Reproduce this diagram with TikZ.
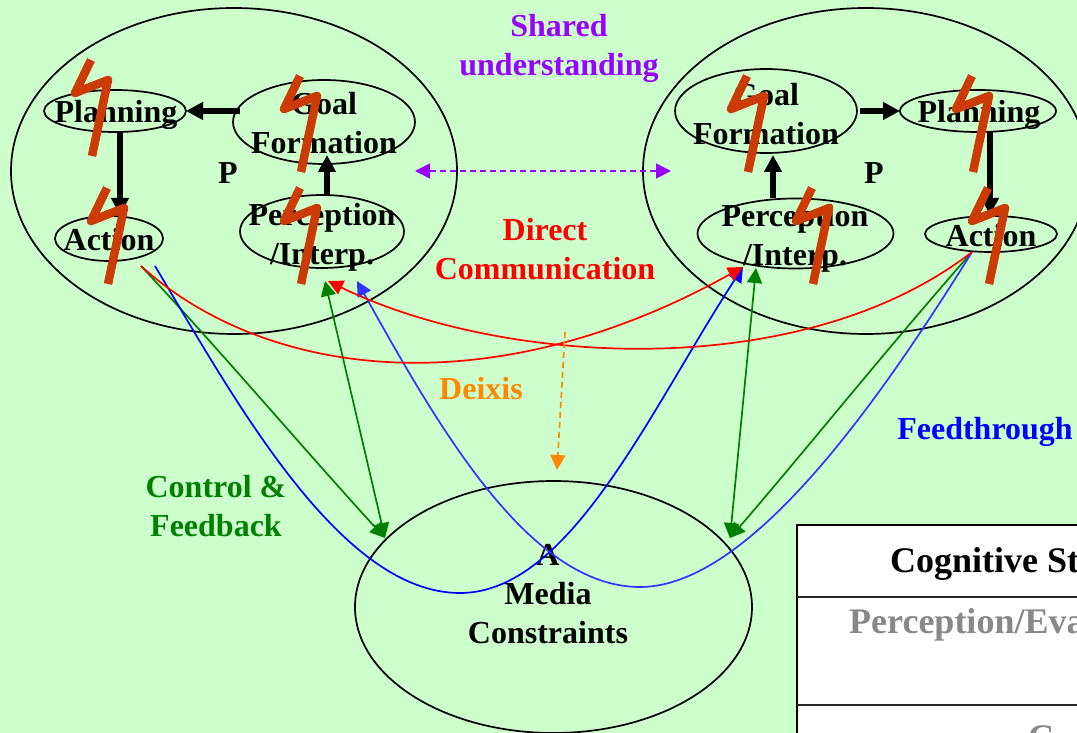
\documentclass[tikz,border=0pt]{standalone}
\usepackage{fontspec}
\setmainfont{Liberation Serif}
\usetikzlibrary{arrows.meta,shapes.geometric}
\definecolor{bg}{HTML}{CCFFCC}
\definecolor{boltc}{HTML}{CC3A06}
\definecolor{purp}{HTML}{9900FF}
\definecolor{orng}{HTML}{FF8800}
\definecolor{grn}{HTML}{008000}
\definecolor{blu}{HTML}{0000FF}
\definecolor{blt}{HTML}{3333FF}
\definecolor{gry}{HTML}{888888}
\tikzset{
  bubble/.style={draw=black,ellipse,line width=1.7pt,inner sep=0pt,outer sep=0pt},
  lab/.style={font=\fontsize{32}{39}\selectfont\bfseries,align=center,inner sep=0pt,text=#1},
  lab/.default=black,
  flow/.style={line width=5.5pt,-{Triangle[length=17pt,width=17pt]}},
  thin link/.style={line width=1.7pt,draw=#1,-{Triangle[length=15pt,width=15pt]},fill=none},
  both link/.style={line width=1.7pt,draw=#1,{Triangle[length=15pt,width=15pt]}-{Triangle[length=15pt,width=15pt]}},
  dash link/.style={line width=1.7pt,draw=#1,dash pattern=on 6pt off 4pt},
  bolt/.pic={\draw[boltc,line width=8.5pt,line join=round] (16,-76) -- (0,-43) -- (33,-56) -- (17,20);},
  tablab/.style={font=\fontsize{36}{40}\selectfont\bfseries,inner sep=0pt,anchor=base west},
}
\begin{document}
\begin{tikzpicture}[x=1pt,y=-1pt]
\clip (0,0) rectangle (1077,733);
\fill[bg] (0,0) rectangle (1077,733);

% table
\draw[fill=white,line width=2pt] (797,525) rectangle (1100,760);
\draw[line width=1.5pt,draw=black!85] (797,597) -- (1100,597);
\draw[line width=1.5pt,draw=black!85] (797,705) -- (1100,705);
\node[tablab] (t1) at (890,572) {Cognitive St};
\node[tablab,text=gry] (t2) at (849,633) {Perception/Eva};
\node[tablab,text=gry] (t3) at (1028,749) {C};

% big ellipses
\node[bubble,minimum width=446pt,minimum height=326pt] (outerL) at (234,171) {};
\node[bubble,minimum width=446pt,minimum height=326pt] (outerR) at (866,171) {};
\node[bubble,minimum width=397pt,minimum height=252pt] (media) at (553.5,607) {};

% left small ellipses
\node[bubble,minimum width=142pt,minimum height=42pt] (planL) at (115,111) {};
\node[bubble,minimum width=182pt,minimum height=84pt] (goalL) at (324,122) {};
\node[bubble,minimum width=108pt,minimum height=45pt] (actL) at (109,238.5) {};
\node[bubble,minimum width=164pt,minimum height=73pt] (percL) at (322,231.5) {};
% right small ellipses
\node[bubble,minimum width=182pt,minimum height=84pt] (goalR) at (766,111) {};
\node[bubble,minimum width=156pt,minimum height=42pt] (planR) at (978,111) {};
\node[bubble,minimum width=196pt,minimum height=70pt] (percR) at (795.5,233.5) {};
\node[bubble,minimum width=132pt,minimum height=36pt] (actR) at (991,234) {};

% texts in ellipses
\node[lab] (tplanL) at (116,115) {Planning};
\node[lab] (tgoalL) at (324,123) {Goal\\Formation};
\node[lab] (tactL) at (109,240) {Action};
\node[lab] (tpercL) at (322,237) {Perception\\/Interp.};
\node[lab] (tgoalR) at (766,114) {Goal\\Formation};
\node[lab] (tplanR) at (979,115) {Planning};
\node[lab] (tpercR) at (795,238) {Perception\\/Interp.};
\node[lab] (tactR) at (991,236) {Action};
\node[lab] (pL) at (228,173) {P};
\node[lab] (pR) at (874,173) {P};
\node[lab] (tmedia) at (548,594) {A\\Media\\Constraints};

% free labels
\node[lab=purp] (shared) at (559,48.5) {Shared\\understanding};
\node[lab=red] (direct) at (545,249) {Direct\\Communication};
\node[lab=orng] (deixis) at (481,389) {Deixis};
\node[lab=blu] (feed) at (985,432) {Feedthrough};
\node[lab=grn] (control) at (216,506) {Control \&\\Feedback};

% thick internal arrows
\draw[flow] (planL.east -| 240,0) -- (planL.east);
\draw[flow] (planL.south -| 120,0) -- (120,215);
\draw[flow] (percL.north -| 327,0) -- (327,155);
\draw[flow] (planR.west -| 860,0) -- (planR.west);
\draw[flow] (percR.north -| 773,0) -- (773,155);
\draw[flow] (planR.south -| 990,0) -- (990,215);

% free ends of the links
\coordinate (actLred) at (141,266);
\coordinate (actLblue) at (155,266);
\coordinate (actRout) at (972,252);
\coordinate (percLg) at (325,281);
\coordinate (percLr) at (328,281);
\coordinate (percLb) at (357,281);
\coordinate (percRb) at (743,267);
\coordinate (percRg) at (756,268);
\coordinate (medL) at (385,538);
\coordinate (medR) at (730,538);
\coordinate (lowL) at (460,593);
\coordinate (lowR) at (640,587);
\coordinate (dA) at (415,171);
\coordinate (dB) at (671,171);
\coordinate (oA) at (565,332);
\coordinate (oB) at (557,470);

% thin links
\draw[thin link=grn] (actLred) .. controls (220,350) and (300,445) .. (medL);
\draw[both link=grn] (percLg) -- (medL);
\draw[both link=grn] (percRg) -- (medR);
\draw[thin link=grn] (actRout) .. controls (890,345) and (810,445) .. (medR);
\draw[thin link=blu] (actLblue) .. controls (235,400) and (340,593) .. (lowL) .. controls (570,593) and (650,410) .. (percRb);
\draw[thin link=blt] (actRout) .. controls (880,400) and (750,587) .. (lowR) .. controls (530,587) and (440,430) .. (percLb);
\draw[thin link=red] (actLred) .. controls (265,378) and (490,408) .. (percRb);
\draw[thin link=red] (actRout) .. controls (800,385) and (500,365) .. (percLr);
\draw[dash link=purp,{Triangle[length=15pt,width=15pt]}-{Triangle[length=15pt,width=15pt]}] (dA) -- (dB);
\draw[dash link=orng,-{Triangle[length=15pt,width=15pt]}] (oA) -- (oB);

% lightning bolts
\pic at (75,136) {bolt};
\pic at (284,152) {bolt};
\pic at (284,264) {bolt};
\pic at (91,264) {bolt};
\pic at (731,152) {bolt};
\pic at (956,152) {bolt};
\pic at (796,264) {bolt};
\pic at (972,264) {bolt};
\end{tikzpicture}
\end{document}
